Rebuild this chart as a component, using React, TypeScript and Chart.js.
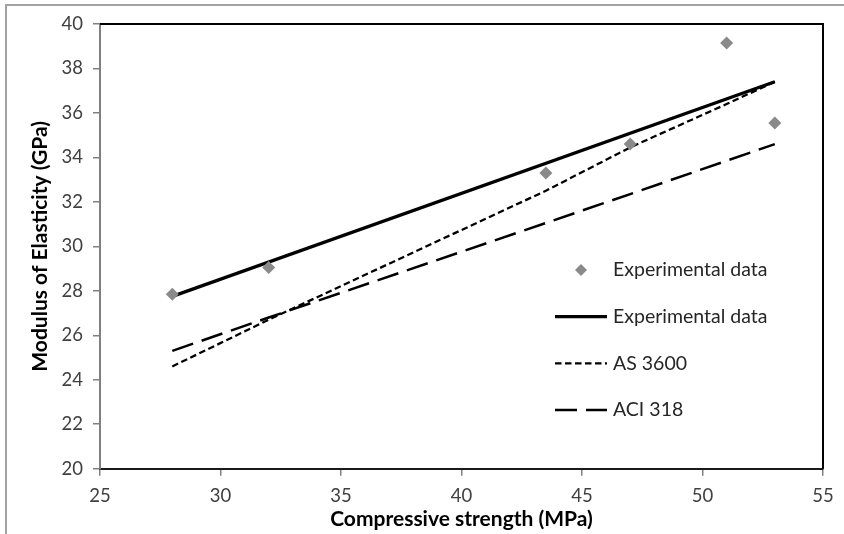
import React, { useEffect, useRef } from "react";
import { Chart, registerables } from "chart.js";

Chart.register(...registerables);

// ---- data ----
const expX = [28, 32, 43.5, 47, 51, 53];
const expY = [27.85, 29.05, 33.3, 34.6, 39.15, 35.55];

const fitX = [28, 53];
const fitY = [27.75, 37.4];

const asX = [28, 32, 43.5, 47, 51, 53];
const asY = [24.6, 26.7, 32.5, 34.45, 36.4, 37.4];

const aciX = [28, 32, 43.5, 47, 51, 53];
const aciY = [25.3, 26.8, 31.05, 32.35, 33.85, 34.6];

const seriesLabels = ["Experimental data", "Experimental data", "AS 3600", "ACI 318"];

const xTitle = "Compressive strength (MPa)";
const yTitle = "Modulus of Elasticity (GPa)";

const xMin = 25, xMax = 55, xStep = 5;
const yMin = 20, yMax = 40, yStep = 2;

const toPoints = (xs: number[], ys: number[]) => xs.map((x, i) => ({ x, y: ys[i] }));

const FONT = "Lato, 'Open Sans', sans-serif";

const framePlugin = {
  id: "frame",
  beforeDraw(chart: any) {
    const { ctx } = chart;
    ctx.save();
    ctx.fillStyle = "#ffffff";
    ctx.fillRect(0, 0, chart.width, chart.height);
    ctx.strokeStyle = "#a3a3a3";
    ctx.lineWidth = 2;
    ctx.beginPath();
    ctx.moveTo(6, chart.height);
    ctx.lineTo(6, 5);
    ctx.lineTo(chart.width, 5);
    ctx.stroke();
    ctx.restore();
  },
  beforeDatasetsDraw(chart: any) {
    const { ctx, chartArea } = chart;
    ctx.save();
    ctx.strokeStyle = "#000000";
    ctx.lineWidth = 2;
    ctx.beginPath();
    ctx.moveTo(chartArea.left, chartArea.top);
    ctx.lineTo(chartArea.right, chartArea.top);
    ctx.lineTo(chartArea.right, chartArea.bottom);
    ctx.stroke();
    ctx.restore();
  },
};

const LEG_TOP = 270;
const LEG_STEP = 46.7;
const LEG_X0 = 555;
const LEG_X1 = 607;
const LEG_TEXT_X = 613;

const legendPlugin = {
  id: "insideLegend",
  afterDatasetsDraw(chart: any) {
    const { ctx } = chart;
    ctx.save();
    chart.data.datasets.forEach((ds: any, i: number) => {
      const y = LEG_TOP + i * LEG_STEP;
      if (ds.showLine === false) {
        const r = 6;
        const cx = (LEG_X0 + LEG_X1) / 2;
        ctx.fillStyle = ds.backgroundColor;
        ctx.beginPath();
        ctx.moveTo(cx - r, y);
        ctx.lineTo(cx, y - r);
        ctx.lineTo(cx + r, y);
        ctx.lineTo(cx, y + r);
        ctx.closePath();
        ctx.fill();
      } else {
        ctx.strokeStyle = ds.borderColor;
        ctx.lineWidth = ds.borderWidth;
        ctx.setLineDash(ds.borderDash || []);
        ctx.beginPath();
        ctx.moveTo(LEG_X0, y);
        ctx.lineTo(LEG_X1, y);
        ctx.stroke();
        ctx.setLineDash([]);
      }
      ctx.fillStyle = "#262626";
      ctx.font = `19.5px ${FONT}`;
      ctx.textBaseline = "middle";
      ctx.textAlign = "left";
      ctx.fillText(ds.label, LEG_TEXT_X, y);
    });
    ctx.restore();
  },
};

export default function App() {
  const ref = useRef<HTMLCanvasElement | null>(null);

  useEffect(() => {
    if (!ref.current) return;
    const chart = new Chart(ref.current, {
      type: "scatter",
      data: {
        datasets: [
          {
            label: seriesLabels[0],
            data: toPoints(expX, expY),
            showLine: false,
            pointStyle: "rectRot",
            pointRadius: 6.5,
            pointBorderWidth: 0,
            backgroundColor: "#8a8a8a",
            borderColor: "#8a8a8a",
          },
          {
            label: seriesLabels[1],
            data: toPoints(fitX, fitY),
            showLine: true,
            pointRadius: 0,
            borderColor: "#000000",
            borderWidth: 3.25,
            backgroundColor: "#000000",
          },
          {
            label: seriesLabels[2],
            data: toPoints(asX, asY),
            showLine: true,
            pointRadius: 0,
            borderColor: "#000000",
            borderWidth: 2.25,
            borderDash: [6.5, 3.5],
            backgroundColor: "#000000",
          },
          {
            label: seriesLabels[3],
            data: toPoints(aciX, aciY),
            showLine: true,
            pointRadius: 0,
            borderColor: "#000000",
            borderWidth: 2.5,
            borderDash: [22, 9],
            backgroundColor: "#000000",
          },
        ],
      },
      options: {
        responsive: false,
        animation: false,
        devicePixelRatio: 1,
        layout: { padding: { top: 24, right: 21, left: 0, bottom: 0 } },
        plugins: {
          legend: { display: false },
          tooltip: { enabled: false },
        },
        scales: {
          x: {
            type: "linear",
            min: xMin,
            max: xMax,
            afterFit: (s: any) => {
              s.height = 65.3;
            },
            ticks: {
              stepSize: xStep,
              padding: 9,
              color: "#404040",
              font: { family: FONT, size: 18.5 },
            },
            grid: {
              drawOnChartArea: false,
              drawTicks: true,
              tickLength: 7,
              color: "#808080",
              lineWidth: 1.5,
            },
            border: { display: true, color: "#1a1a1a", width: 2 },
            title: {
              display: true,
              text: xTitle,
              color: "#000000",
              font: { family: FONT, size: 21, weight: "bold" },
              padding: { top: 0, bottom: 2.5 },
            },
          },
          y: {
            type: "linear",
            min: yMin,
            max: yMax,
            afterFit: (s: any) => {
              s.width = 100;
            },
            ticks: {
              stepSize: yStep,
              padding: 10,
              color: "#404040",
              font: { family: FONT, size: 18.5 },
            },
            grid: {
              drawOnChartArea: false,
              drawTicks: true,
              tickLength: 7,
              color: "#808080",
              lineWidth: 1.5,
            },
            border: { display: true, color: "#808080", width: 2 },
            title: {
              display: true,
              text: yTitle,
              color: "#000000",
              font: { family: FONT, size: 21, weight: "bold" },
              padding: { top: 28, bottom: 0 },
            },
          },
        },
      },
      plugins: [framePlugin, legendPlugin],
    });
    return () => chart.destroy();
  }, []);

  return (
    <div style={{ position: "fixed", left: 0, top: 0, width: 844, height: 534, background: "#fff" }}>
      <canvas ref={ref} width={844} height={534} style={{ display: "block", width: 844, height: 534 }} />
    </div>
  );
}
